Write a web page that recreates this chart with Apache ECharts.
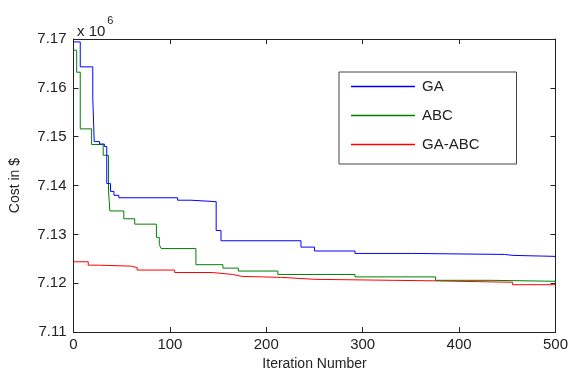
<!DOCTYPE html>
<html>
<head>
<meta charset="utf-8">
<script src="https://cdn.jsdelivr.net/npm/echarts@6/dist/echarts.min.js"></script>
<style>
  html, body { margin: 0; padding: 0; background: #fff; }
  #chart { width: 571px; height: 376px; }
</style>
</head>
<body>
<div id="chart"></div>
<script>
// step points: [iteration where the value starts, cost x 10^6]
const gaPoints = [
  [0, 7.1694], [7, 7.1643], [20, 7.1580], [21.5, 7.1490], [27, 7.1485], [32, 7.1480],
  [34.5, 7.1404], [38.4, 7.1388], [42, 7.1380], [47, 7.1375], [108, 7.1370], [122, 7.1367],
  [148, 7.1308], [153, 7.1287], [236, 7.1274], [250, 7.1266], [292, 7.1261], [352, 7.1259],
  [447, 7.1257], [456, 7.1255], [500, 7.1255]
]
const abcPoints = [
  [0, 7.1677], [3.3, 7.1632], [7, 7.1516], [18.8, 7.1484], [30.8, 7.1462], [36.3, 7.1391],
  [37.7, 7.1348], [52.2, 7.1332], [63.5, 7.1321], [86, 7.1294], [89, 7.1279], [91, 7.1271],
  [127, 7.1238], [155, 7.1231], [171, 7.1225], [212, 7.1218], [292, 7.1213], [375.5, 7.1206],
  [433, 7.1204], [500, 7.1204]
]
const gaAbcPoints = [
  [0, 7.1244], [15.3, 7.1237], [27, 7.1235], [60, 7.1232], [66, 7.1227], [105, 7.1222],
  [144, 7.1218], [165, 7.1214], [175, 7.1212], [216, 7.1208], [250.5, 7.1205], [372, 7.1202],
  [455.5, 7.1197], [500, 7.1197]
]
const seriesNames = ['GA', 'ABC', 'GA-ABC']
const seriesColors = ['#0000ff', '#008000', '#ff0000']

const font = 'Liberation Sans, Arial, sans-serif'
const chart = echarts.init(document.getElementById('chart'))

const boxAxis = {
  axisLine: { show: true, onZero: false, lineStyle: { color: '#222', width: 1 } },
  axisTick: { show: true, inside: true, length: 5, lineStyle: { color: '#222' } },
  splitLine: { show: false }
}

chart.setOption({
  animation: false,
  backgroundColor: '#fff',
  title: {
    left: 72, top: 10,
    text: '{a|x 10}{b|6}',
    textStyle: {
      fontWeight: 'normal',
      rich: {
        a: { fontFamily: font, fontSize: 15, fontWeight: 'normal', color: '#222', padding: [9, 0, 0, 0] },
        b: { fontFamily: font, fontSize: 11, fontWeight: 'normal', color: '#222', verticalAlign: 'top', padding: [0, 0, 0, 2] }
      }
    }
  },
  grid: { left: 73.5, right: 13.5, top: 39, bottom: 41 },
  legend: {
    orient: 'vertical',
    left: 339, top: 72,
    padding: [7, 37, 12, 12],
    itemGap: 14,
    itemWidth: 64,
    itemHeight: 1.5,
    borderColor: '#444',
    borderWidth: 1,
    backgroundColor: '#fff',
    icon: 'rect',
    data: seriesNames,
    textStyle: { fontFamily: font, fontSize: 15, color: '#222', padding: [0, 0, 0, 2] }
  },
  xAxis: [
    Object.assign({}, boxAxis, {
      type: 'value', min: 0, max: 500, interval: 100,
      name: 'Iteration Number', nameLocation: 'middle', nameGap: 24,
      nameTextStyle: { fontFamily: font, fontSize: 14, color: '#222' },
      axisLabel: { fontFamily: font, fontSize: 15, color: '#222', margin: 5 }
    }),
    Object.assign({}, boxAxis, {
      type: 'value', position: 'top', min: 0, max: 500, interval: 100,
      axisLabel: { show: false }
    })
  ],
  yAxis: [
    Object.assign({}, boxAxis, {
      type: 'value', min: 7.11, max: 7.17, interval: 0.01,
      name: 'Cost in $', nameLocation: 'middle', nameGap: 51,
      nameTextStyle: { fontFamily: font, fontSize: 14, color: '#222' },
      axisLabel: { fontFamily: font, fontSize: 15, color: '#222', margin: 7,
        formatter: v => v.toFixed(2) }
    }),
    Object.assign({}, boxAxis, {
      type: 'value', position: 'right', min: 7.11, max: 7.17, interval: 0.01,
      axisLabel: { show: false }
    })
  ],
  series: [gaPoints, abcPoints, gaAbcPoints].map((pts, i) => ({
    name: seriesNames[i],
    type: 'line',
    step: 'end',
    data: pts,
    showSymbol: false,
    symbol: 'none',
    color: seriesColors[i],
    lineStyle: { width: 1, color: seriesColors[i] },
    z: 3 - i
  }))
})
</script>
</body>
</html>
